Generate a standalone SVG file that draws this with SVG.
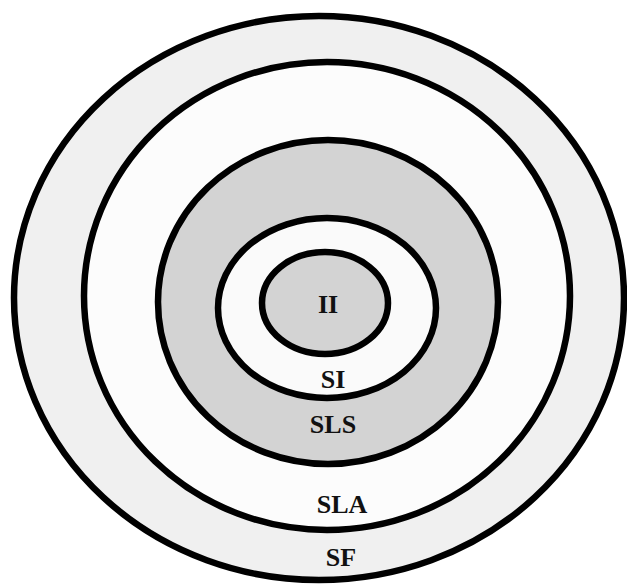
<svg xmlns="http://www.w3.org/2000/svg" width="627" height="584" viewBox="0 0 627 584">
<style>
.ring{stroke:#000;stroke-width:6.5}
.lbl{font-family:"Liberation Serif","DejaVu Serif",serif;font-weight:bold;font-size:26px;text-anchor:middle;fill:#111}
</style>
<rect width="627" height="584" fill="#ffffff"/>
<g id="SF"><ellipse class="ring" cx="319" cy="298" rx="305" ry="282" fill="#f0f0f0"/><text class="lbl" x="341" y="566">SF</text></g>
<g id="SLA"><ellipse class="ring" cx="327" cy="296" rx="243" ry="234" fill="#fcfcfc"/><text class="lbl" x="342" y="513">SLA</text></g>
<g id="SLS"><ellipse class="ring" cx="328" cy="302" rx="170" ry="162" fill="#d3d3d3"/><text class="lbl" x="333" y="433">SLS</text></g>
<g id="SI"><ellipse class="ring" cx="327" cy="308" rx="109" ry="90" fill="#fafafa"/><text class="lbl" x="333" y="388">SI</text></g>
<g id="II"><ellipse class="ring" cx="325" cy="303" rx="63" ry="51" fill="#d3d3d3"/><text class="lbl" x="328" y="313">II</text></g>
<g id="connectors"/>
</svg>
